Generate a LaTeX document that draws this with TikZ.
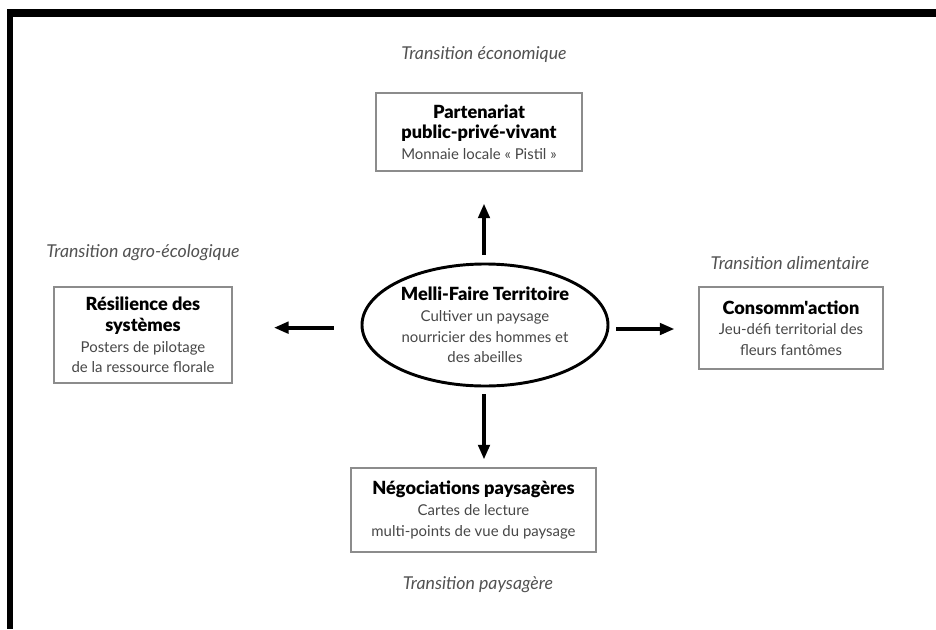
\documentclass[tikz,border=0pt]{standalone}
\usepackage{fontspec}
\setmainfont{Lato}
\newfontfamily\lourd{Lato Black}
\usetikzlibrary{calc,shapes.geometric,arrows.meta}

\tikzset{
  boite/.style={draw=black!45, line width=0.8pt, align=center, text=black!72,
    font=\fontsize{11.2}{15.5}\selectfont, inner sep=0pt},
  transition/.style={font=\itshape\fontsize{13.3}{15}\selectfont, text=black!68},
  fleche/.style={line width=3pt, -{Triangle[length=11pt,width=8.5pt]}},
}

\begin{document}
\begin{tikzpicture}[x=0.75pt,y=-0.75pt]
		\useasboundingbox (0,0) rectangle (936,629);
		\fill[white] (0,0) rectangle (936,629);
		\fill[black] (7,9) rectangle (936,17);
		\fill[black] (7,9) rectangle (13,629);
		\node[boite, ellipse, draw=black, line width=2.2pt, inner xsep=-3pt,
		  minimum width=184.5pt, minimum height=91.5pt] (melli) at (485,325)
		  {{\lourd\color{black}\fontsize{13.6}{15.5}\selectfont Melli-Faire Territoire}\\Cultiver un paysage\\nourricier des hommes et\\des abeilles};
		\node[boite, minimum width=154.5pt, minimum height=58.5pt] (partenariat) at ($(melli) + (-6,-193)$)
		  {{\lourd\color{black}\fontsize{13.6}{15.5}\selectfont Partenariat}\\{\lourd\color{black}\fontsize{13.6}{15.5}\selectfont public-privé-vivant}\\Monnaie locale « Pistil »};
		\node[boite, minimum width=133.5pt, minimum height=72pt] (resilience) at ($(melli) + (-342,10)$)
		  {{\lourd\color{black}\fontsize{13.6}{15.5}\selectfont Résilience des}\\{\lourd\color{black}\fontsize{13.6}{15.5}\selectfont systèmes}\\Posters de pilotage\\de la ressource florale};
		\node[boite, minimum width=138pt, minimum height=61.5pt] (consommaction) at ($(melli) + (306,3)$)
		  {{\lourd\color{black}\fontsize{13.6}{15.5}\selectfont Consomm'action}\\Jeu-défi territorial des\\fleurs fantômes};
		\node[boite, minimum width=183.75pt, minimum height=63pt] (negociations) at ($(melli) + (-11.5,185)$)
		  {{\lourd\color{black}\fontsize{13.6}{15.5}\selectfont Négociations paysagères}\\Cartes de lecture\\multi-points de vue du paysage};
		% les quatre transitions
		\node[transition] (teco) at ($(partenariat) + (5,-77)$) {Transition économique};
		\node[transition] (tagro) at ($(resilience) + (0,-82)$) {Transition agro-écologique};
		\node[transition] (talim) at ($(consommaction) + (-1,-65)$) {Transition alimentaire};
		\node[transition] (tpays) at ($(negociations) + (4.5,75)$) {Transition paysagère};
		\draw [fleche, shorten <=6pt, shorten >=24pt] ([xshift=-0.75pt]melli.north) -- ([xshift=-0.75pt]melli.north |- partenariat.south);
		\draw [fleche, shorten <=5pt, shorten >=6pt] ([xshift=-0.75pt]melli.south) -- ([xshift=-0.75pt]melli.south |- negociations.north);
		\draw [fleche, shorten <=20pt, shorten >=31pt] ([yshift=-2pt]melli.west) -- ([yshift=-2pt]melli.west -| resilience.east);
		\draw [fleche, shorten <=5pt, shorten >=18pt] ([yshift=-3pt]melli.east) -- ([yshift=-3pt]melli.east -| consommaction.west);
\end{tikzpicture}
\end{document}
